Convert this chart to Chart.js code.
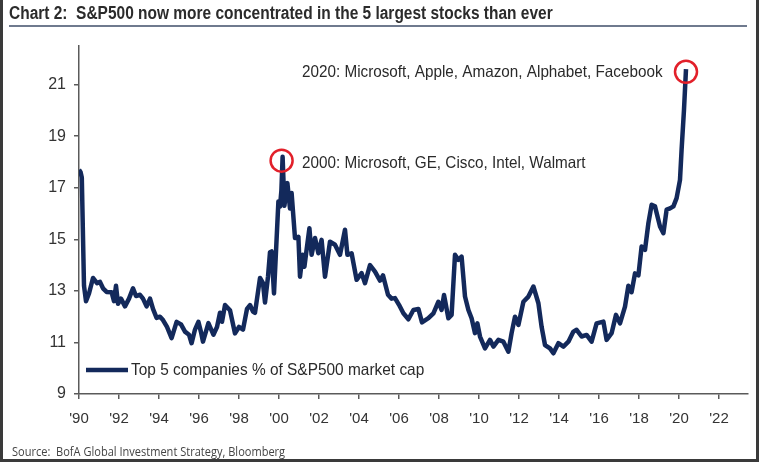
<!DOCTYPE html>
<html lang="en">
<head>
    <meta charset="UTF-8">
    <title>S&amp;P500 concentration</title>
    <script src="https://cdn.jsdelivr.net/npm/chart.js@4.4.1/dist/chart.umd.min.js"></script>
    <style>
        body {
            margin: 0;
            background: #fff;
        }
        .frame {
            position: relative;
            width: 759px;
            height: 462px;
            box-sizing: border-box;
            border-left: 3px solid #3a3a3a;
            border-right: 3px solid #3a3a3a;
            border-bottom: 3px solid #3a3a3a;
            overflow: hidden;
        }
        .title {
            position: absolute;
            left: 6px;
            top: 3px;
            width: 738px;
            padding-bottom: 1px;
            border-bottom: 2px solid #6f7a8e;
            font-family: "Liberation Sans", Arial, sans-serif;
            font-weight: bold;
            font-size: 18px;
            color: #2b2b2b;
            white-space: nowrap;
        }
        .title span, .source span {
            display: inline-block;
            transform-origin: left center;
        }
        .title span { transform: scaleX(0.86); }
        .source span { transform: scaleX(0.92); }
        .source {
            position: absolute;
            left: 9px;
            top: 443px;
            font-family: "Open Sans", sans-serif;
            font-size: 12px;
            color: #444;
            white-space: nowrap;
        }
        #wrap {
            position: absolute;
            left: -3px;
            top: 0;
            width: 759px;
            height: 462px;
        }
    </style>
</head>
<body>
<div class="frame">
    <div id="wrap"><canvas id="chart"></canvas></div>
    <div class="title"><span>Chart 2:&nbsp; S&amp;P500 now more concentrated in the 5 largest stocks than ever</span></div>
    <div class="source"><span>Source:&nbsp; BofA Global Investment Strategy, Bloomberg</span></div>
</div>

<script>
    const seriesLabel = 'Top 5 companies % of S&P500 market cap';

    const years = [
        1990.0, 1990.08, 1990.14, 1990.25, 1990.35, 1990.5, 1990.7, 1990.9, 1991.05, 1991.2,
        1991.38, 1991.63, 1991.75, 1991.85, 1991.95, 1992.1, 1992.3, 1992.5, 1992.7, 1992.85,
        1993.05, 1993.2, 1993.38, 1993.55, 1993.7, 1993.88, 1994.05, 1994.2, 1994.4, 1994.63,
        1994.88, 1995.1, 1995.3, 1995.5, 1995.63, 1995.8, 1995.97, 1996.1, 1996.2, 1996.47,
        1996.72, 1996.9, 1997.05, 1997.15, 1997.3, 1997.55, 1997.8, 1998.0, 1998.2, 1998.4,
        1998.55, 1998.7, 1998.8, 1999.05, 1999.2, 1999.3, 1999.45, 1999.55, 1999.63, 1999.75,
        1999.97, 2000.05, 2000.12, 2000.18, 2000.27, 2000.42, 2000.55, 2000.63, 2000.8, 2000.97,
        2001.05, 2001.18, 2001.27, 2001.52, 2001.63, 2001.8, 2001.97, 2002.13, 2002.3, 2002.55,
        2002.8, 2003.05, 2003.3, 2003.42, 2003.63, 2003.88, 2004.13, 2004.3, 2004.55, 2004.8,
        2005.05, 2005.2, 2005.45, 2005.63, 2005.8, 2006.0, 2006.22, 2006.47, 2006.72, 2006.97,
        2007.15, 2007.47, 2007.72, 2007.97, 2008.13, 2008.25, 2008.47, 2008.63, 2008.8, 2008.97,
        2009.13, 2009.3, 2009.47, 2009.63, 2009.8, 2009.92, 2010.05, 2010.3, 2010.55, 2010.72,
        2010.97, 2011.22, 2011.47, 2011.63, 2011.8, 2011.97, 2012.22, 2012.47, 2012.72, 2012.97,
        2013.13, 2013.3, 2013.55, 2013.72, 2013.97, 2014.22, 2014.47, 2014.72, 2014.88, 2015.13,
        2015.38, 2015.63, 2015.88, 2016.22, 2016.38, 2016.63, 2016.85, 2017.05, 2017.3, 2017.47,
        2017.63, 2017.8, 2017.97, 2018.13, 2018.3, 2018.47, 2018.63, 2018.8, 2019.05, 2019.22,
        2019.38, 2019.55, 2019.72, 2019.88, 2020.05, 2020.13, 2020.25, 2020.35
    ];

    const shares = [
        17.7, 17.6, 17.4, 13.2, 12.6, 12.9, 13.5, 13.3, 13.35, 13.1,
        12.96, 12.95, 12.6, 13.2, 12.5, 12.7, 12.4, 12.7, 13.1, 12.8,
        12.85, 12.7, 12.4, 12.7, 12.3, 11.95, 12.0, 11.87, 11.6, 11.17,
        11.8, 11.7, 11.42, 11.3, 10.97, 11.5, 11.8, 11.4, 11.03, 11.75,
        11.3, 11.6, 12.15, 11.8, 12.45, 12.25, 11.35, 11.6, 11.5, 12.3,
        12.45, 12.2, 12.15, 13.5, 13.3, 12.55, 13.55, 14.5, 14.53, 12.9,
        16.47, 16.27, 16.9, 18.2, 16.3, 17.18, 16.2, 16.8, 15.05, 15.1,
        13.55, 14.4, 13.94, 15.43, 14.4, 15.05, 14.46, 14.98, 13.55, 14.91,
        14.79, 14.4, 15.37, 14.4, 14.46, 13.43, 13.69, 13.3, 14.0, 13.75,
        13.4, 13.6, 12.85, 12.7, 12.72, 12.46, 12.13, 11.9, 12.26, 12.3,
        11.78, 11.94, 12.13, 12.58, 12.26, 12.84, 11.94, 12.07, 14.4, 14.2,
        14.33, 12.78, 12.26, 11.94, 11.36, 11.74, 11.23, 10.77, 11.1, 10.84,
        11.1, 11.03, 10.64, 11.36, 12.0, 11.68, 12.58, 12.78, 13.17, 12.52,
        11.61, 10.9, 10.77, 10.58, 10.97, 10.84, 11.03, 11.42, 11.49, 11.23,
        11.29, 11.03, 11.74, 11.81, 11.1, 11.36, 12.07, 11.74, 12.39, 13.2,
        12.95, 13.68, 13.6, 14.72, 14.59, 15.63, 16.34, 16.28, 15.5, 15.24,
        16.15, 16.2, 16.28, 16.6, 17.31, 18.48, 20.03, 21.6
    ];

    const xTicks = [1990, 1992, 1994, 1996, 1998, 2000, 2002, 2004, 2006, 2008, 2010,
                    2012, 2014, 2016, 2018, 2020, 2022];
    const yTicks = [9, 11, 13, 15, 17, 19, 21];

    // peak call-outs: circle centre (year, value) and the text beside it
    const calloutYears = [2000.13, 2020.35];
    const calloutValues = [18.05, 21.5];
    const calloutTexts = [
        '2000: Microsoft, GE, Cisco, Intel, Walmart',
        '2020: Microsoft, Apple, Amazon, Alphabet, Facebook'
    ];
    const calloutTextYear = 2001.15;
    const calloutTextValues = [17.93, 21.47];

    const NAVY = '#13295b';
    const AXIS = '#5a5a5a';
    const TXT = '#2a2a2a';
    const FONT = '"Liberation Sans", Arial, sans-serif';

    // the original uses a condensed face; squeeze the regular one a little
    function narrowText(ctx, text, x, y, squeeze) {
        ctx.save();
        ctx.translate(x, y);
        ctx.scale(squeeze, 1);
        ctx.fillText(text, 0, 0);
        ctx.restore();
    }

    const extras = {
        id: 'extras',
        afterDatasetsDraw(chart) {
            const ctx = chart.ctx;
            const xs = chart.scales.x, ys = chart.scales.y;
            ctx.save();

            // red circles on the two peaks
            ctx.strokeStyle = '#e2202a';
            ctx.lineWidth = 2.5;
            calloutYears.forEach((yr, i) => {
                ctx.beginPath();
                ctx.arc(xs.getPixelForValue(yr), ys.getPixelForValue(calloutValues[i]), 11, 0, Math.PI * 2);
                ctx.stroke();
            });

            ctx.fillStyle = TXT;
            ctx.font = '16.5px ' + FONT;
            ctx.textBaseline = 'middle';
            ctx.textAlign = 'left';
            calloutTexts.forEach((t, i) => {
                narrowText(ctx, t, xs.getPixelForValue(calloutTextYear), ys.getPixelForValue(calloutTextValues[i]), 0.925);
            });

            // legend inside the plot, bottom left
            const ly = 370;
            ctx.strokeStyle = NAVY;
            ctx.lineWidth = 4.5;
            ctx.beginPath();
            ctx.moveTo(86, ly);
            ctx.lineTo(128, ly);
            ctx.stroke();
            ctx.font = '16.5px ' + FONT;
            narrowText(ctx, seriesLabel, 131, ly, 0.935);
            ctx.restore();
        }
    };

    new Chart(document.getElementById('chart'), {
        type: 'line',
        data: {
            datasets: [{
                label: seriesLabel,
                data: years.map((yr, i) => ({ x: yr, y: shares[i] })),
                borderColor: NAVY,
                borderWidth: 4.5,
                pointRadius: 0,
                tension: 0,
                borderJoinStyle: 'round'
            }]
        },
        options: {
            responsive: true,
            maintainAspectRatio: false,
            animation: false,
            layout: { padding: { left: 0, top: 46, right: 11, bottom: 0 } },
            plugins: {
                legend: { display: false },
                tooltip: { enabled: false }
            },
            scales: {
                x: {
                    type: 'linear',
                    min: 1990,
                    max: 2023.45,
                    afterFit(scale) { scale.height = 68; },
                    afterBuildTicks(scale) { scale.ticks = xTicks.map(v => ({ value: v })); },
                    border: { display: true, color: AXIS, width: 1.5 },
                    grid: { drawOnChartArea: false, drawTicks: true, tickLength: 5, color: AXIS, lineWidth: 1.5 },
                    ticks: {
                        color: '#333',
                        font: { family: FONT, size: 15 },
                        padding: 11,
                        maxRotation: 0,
                        callback: v => "'" + String(v).slice(2)
                    }
                },
                y: {
                    min: 9,
                    max: 22.5,
                    afterFit(scale) { scale.width = 79; },
                    afterBuildTicks(scale) { scale.ticks = yTicks.map(v => ({ value: v })); },
                    border: { display: true, color: AXIS, width: 1.5 },
                    grid: { drawOnChartArea: false, drawTicks: true, tickLength: 5, color: AXIS, lineWidth: 1.5 },
                    ticks: {
                        color: '#333',
                        font: { family: FONT, size: 16 },
                        padding: 8
                    }
                }
            }
        },
        plugins: [extras]
    });
</script>
</body>
</html>
